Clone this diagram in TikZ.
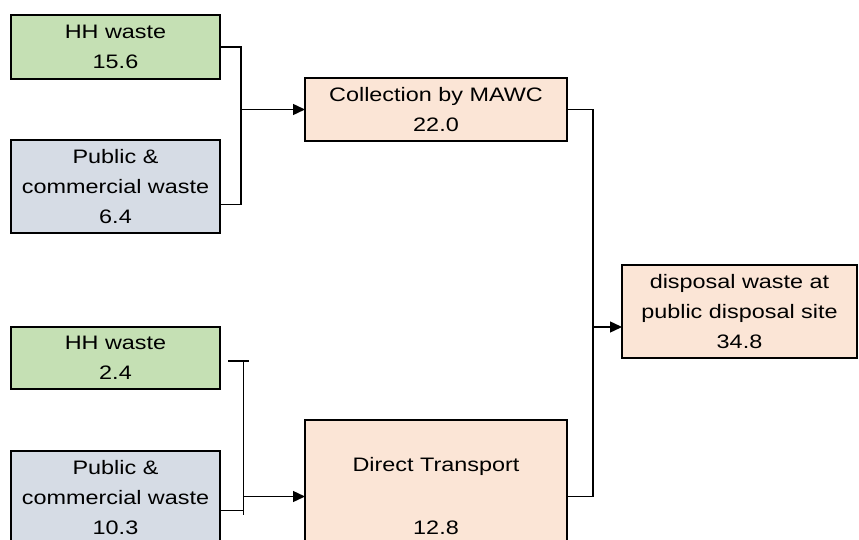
\documentclass[tikz,border=0pt]{standalone}
\usepackage{fontspec}
\setmainfont{Liberation Sans}[FakeStretch=1.2]
\usetikzlibrary{arrows.meta,calc}
\definecolor{hhgreen}{HTML}{C5E0B4}
\definecolor{pubgray}{HTML}{D6DCE5}
\definecolor{peach}{HTML}{FBE5D6}
\begin{document}
\begin{tikzpicture}[x=1pt,y=-1pt,
 box/.style={draw=black,line width=1.8pt,inner sep=0pt,outer sep=0pt,align=center,anchor=north west,font=\fontsize{19.5}{30}\selectfont},
 conn/.style={line width=1.4pt,black},
 arr/.style={conn,-{Triangle[length=12pt,width=11pt]}}]
\path[use as bounding box] (0,0) rectangle (859,540);
\clip (0,0) rectangle (859,540);
\node[box,fill=hhgreen,minimum width=209pt,minimum height=64pt] (hh1) at (11,15) {HH waste\\15.6};
\node[box,fill=pubgray,minimum width=209pt,minimum height=93pt] (pub1) at (11,140) {Public \&\\commercial waste\\6.4};
\node[box,fill=peach,minimum width=262pt,minimum height=63pt] (col) at (305,78) {Collection by MAWC\\22.0};
\node[box,fill=hhgreen,minimum width=209pt,minimum height=62pt] (hh2) at (11,327) {HH waste\\2.4};
\node[box,fill=pubgray,minimum width=209pt,minimum height=93pt] (pub2) at (11,451) {Public \&\\commercial waste\\10.3};
\node[box,fill=peach,minimum width=262pt,minimum height=153pt] (dt) at (305,420) {Direct Transport\\[33pt]12.8};
\node[box,fill=peach,minimum width=235pt,minimum height=93pt] (disp) at (622,265) {disposal waste at\\public disposal site\\34.8};
% upper group
\draw[conn] (hh1.east) -- ++(21,0) coordinate (j1t) -- ($(pub1.east)+(21,18)$) -- ($(pub1.east)+(0,18)$);
\draw[arr] (j1t |- col.west) -- (col.west);
% lower group
\coordinate (v2t) at (243.5,361);
\coordinate (v2b) at (243.5,515);
\draw[conn] ($(v2t)+(-15.5,0)$) -- ($(v2t)+(5.5,0)$);
\draw[conn] (v2t) -- (v2b);
\draw[conn] ($(pub2.east)+(0,13)$) -- ($(pub2.east)+(23.5,13)$);
\draw[arr] (v2t |- dt.west) -- (dt.west);
% right group
\draw[conn] (col.east) -- ++(26,0) coordinate (j3t) |- (dt.east);
\draw[arr] ($(disp.west)+(-29.5,15.5)$) -- ($(disp.west)+(0,15.5)$);
\end{tikzpicture}
\end{document}
